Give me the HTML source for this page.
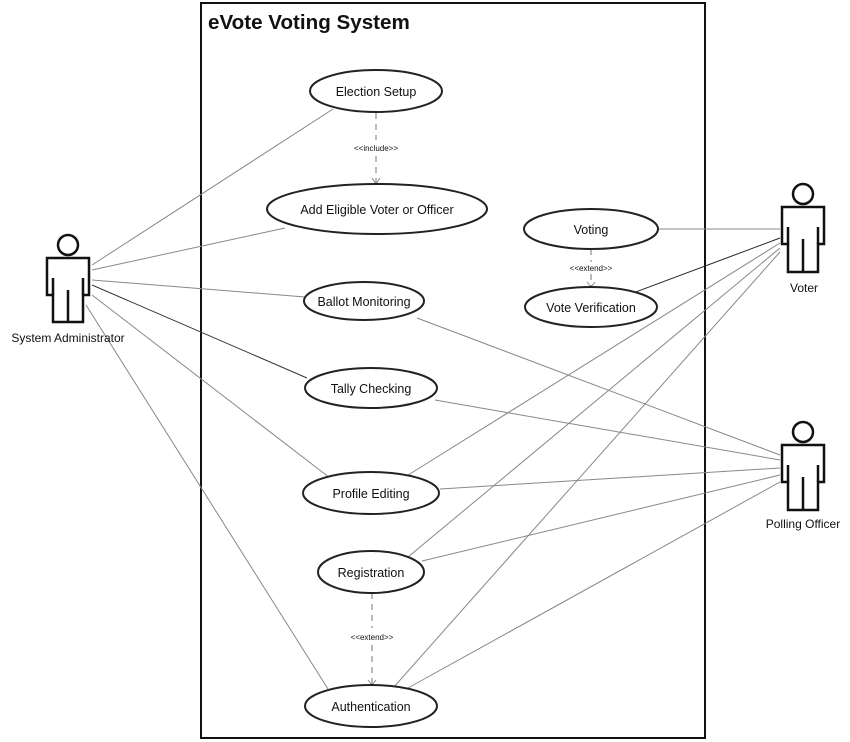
<!DOCTYPE html>
<html><head><style>
html,body{margin:0;padding:0;background:#fff;}
svg{display:block;}
text{font-family:"Liberation Sans",sans-serif;fill:#111;}
</style></head><body>
<svg width="850" height="742" viewBox="0 0 850 742" xmlns="http://www.w3.org/2000/svg">
<rect x="201" y="3" width="504" height="735" fill="none" stroke="#111" stroke-width="2"/>
<text x="208" y="29" font-size="20.6" font-weight="bold">eVote Voting System</text>
<g stroke="#888" stroke-width="1" fill="none">
<line x1="92" y1="265" x2="333" y2="109"/>
<line x1="92" y1="270" x2="285" y2="228"/>
<line x1="92" y1="280" x2="305" y2="297"/>
<line x1="92" y1="285" x2="307" y2="378" stroke="#333"/>
<line x1="92" y1="295" x2="330" y2="478"/>
<line x1="86" y1="305" x2="328" y2="689"/>
<line x1="780" y1="229" x2="658" y2="229"/>
<line x1="780" y1="238" x2="633" y2="293" stroke="#222"/>
<line x1="780" y1="243" x2="405" y2="477"/>
<line x1="780" y1="248" x2="408" y2="557"/>
<line x1="780" y1="252" x2="393" y2="688"/>
<line x1="780" y1="455" x2="417" y2="318"/>
<line x1="780" y1="460" x2="435" y2="400"/>
<line x1="780" y1="468" x2="440" y2="489"/>
<line x1="780" y1="475" x2="422" y2="561"/>
<line x1="780" y1="482" x2="408" y2="688"/>
</g>
<g stroke="#777" stroke-width="1" stroke-dasharray="6,5" fill="none">
<line x1="376" y1="113" x2="376" y2="140"/><line x1="376" y1="156" x2="376" y2="183"/>
<line x1="591" y1="249" x2="591" y2="262"/><line x1="591" y1="274" x2="591" y2="287"/>
<line x1="372" y1="593" x2="372" y2="628"/><line x1="372" y1="645" x2="372" y2="685"/>
</g>
<g stroke="#888" fill="none"><path d="M372 178 L376 184 L380 178"/><path d="M587 282 L591 287 L595 282"/><path d="M368 680 L372 685 L376 680"/></g>
<g font-size="8" text-anchor="middle">
<text x="376" y="151">&lt;&lt;include&gt;&gt;</text>
<text x="591" y="271">&lt;&lt;extend&gt;&gt;</text>
<text x="372" y="640">&lt;&lt;extend&gt;&gt;</text>
</g>
<g fill="#fff" stroke="#222" stroke-width="2">
<ellipse cx="376" cy="91" rx="66" ry="21"/>
<ellipse cx="377" cy="209" rx="110" ry="25"/>
<ellipse cx="591" cy="229" rx="67" ry="20"/>
<ellipse cx="591" cy="307" rx="66" ry="20"/>
<ellipse cx="364" cy="301" rx="60" ry="19"/>
<ellipse cx="371" cy="388" rx="66" ry="20"/>
<ellipse cx="371" cy="493" rx="68" ry="21"/>
<ellipse cx="371" cy="572" rx="53" ry="21"/>
<ellipse cx="371" cy="706" rx="66" ry="21"/>
</g>
<g font-size="12.5" text-anchor="middle">
<text x="376" y="96">Election Setup</text>
<text x="377" y="214">Add Eligible Voter or Officer</text>
<text x="591" y="234">Voting</text>
<text x="591" y="312">Vote Verification</text>
<text x="364" y="306">Ballot Monitoring</text>
<text x="371" y="393">Tally Checking</text>
<text x="371" y="498">Profile Editing</text>
<text x="371" y="577">Registration</text>
<text x="371" y="711">Authentication</text>
</g>
<g fill="#fff" stroke="#111" stroke-width="2.5">
<circle cx="68" cy="245" r="10"/>
<path d="M47 258 H89 V295 H83 V322 H53 V295 H47 Z"/>
<path d="M53 278 V295 M83 278 V295 M68 290 V322" fill="none"/>
<circle cx="803" cy="194" r="10"/>
<path d="M782 207 H824 V244 H818 V272 H788 V244 H782 Z"/>
<path d="M788 227 V244 M818 227 V244 M803 239 V272" fill="none"/>
<circle cx="803" cy="432" r="10"/>
<path d="M782 445 H824 V482 H818 V510 H788 V482 H782 Z"/>
<path d="M788 465 V482 M818 465 V482 M803 477 V510" fill="none"/>
</g>
<g font-size="12" text-anchor="middle">
<text x="68" y="342">System Administrator</text>
<text x="804" y="292">Voter</text>
<text x="803" y="528">Polling Officer</text>
</g>
</svg>
</body></html>
